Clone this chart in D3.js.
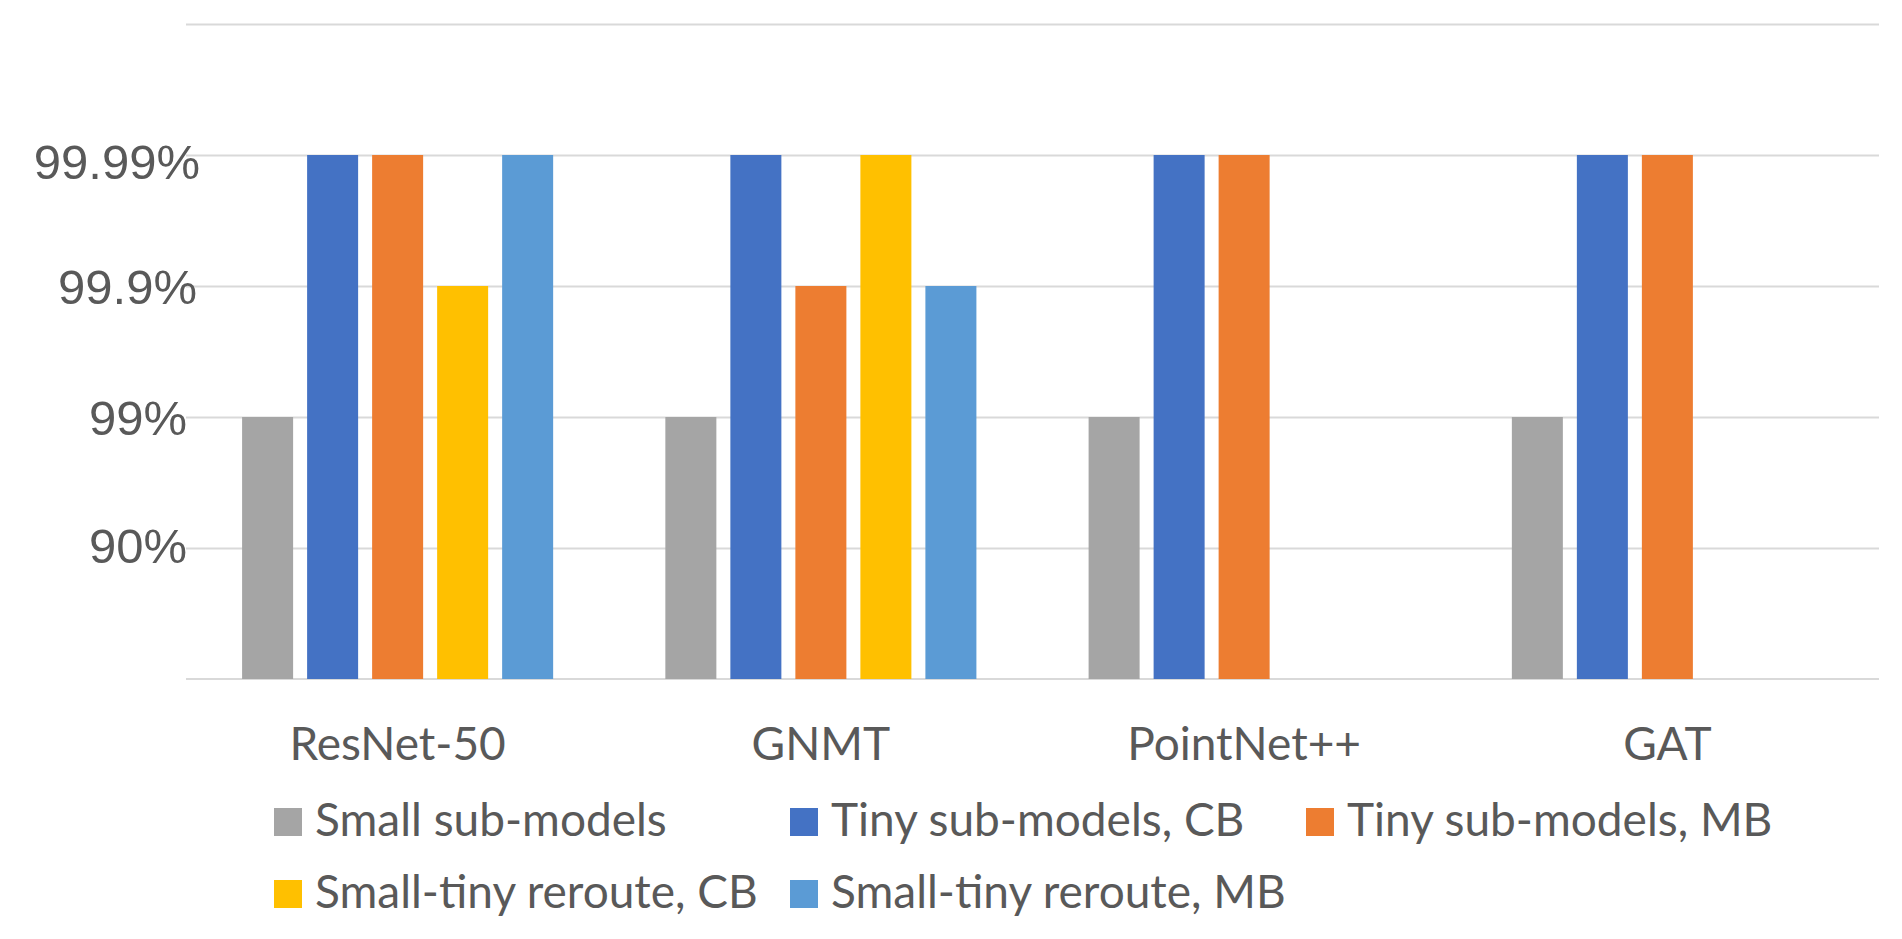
<!DOCTYPE html>
<html>
<head>
<meta charset="utf-8">
<script src="https://cdn.jsdelivr.net/npm/d3@7"></script>
<style>
  body { margin: 0; background: #fff; }
  svg { display: block; }
</style>
</head>
<body>
<div id="chart"></div>
<script>
const categories = ["ResNet-50", "GNMT", "PointNet++", "GAT"];
const seriesNames = [
  "Small sub-models",
  "Tiny sub-models, CB",
  "Tiny sub-models, MB",
  "Small-tiny reroute, CB",
  "Small-tiny reroute, MB"
];
const seriesColors = ["#A5A5A5", "#4472C4", "#ED7D31", "#FFC000", "#5B9BD5"];

// availability in percent, null = no bar
const smallSub = [99, 99, 99, 99];
const tinyCB = [99.99, 99.99, 99.99, 99.99];
const tinyMB = [99.99, 99.9, 99.99, 99.99];
const rerouteCB = [99.9, 99.99, null, null];
const rerouteMB = [99.99, 99.9, null, null];
const seriesValues = [smallSub, tinyCB, tinyMB, rerouteCB, rerouteMB];

const tickValues = [90, 99, 99.9, 99.99, 99.999];
const tickLabels = ["90%", "99%", "99.9%", "99.99%", ""];

const width = 1902, height = 939;
const plotLeft = 186, plotRight = 1879, plotTop = 24, plotBottom = 679;
// the original's tick labels sit a little unevenly
const labelDx = [0, 0, 10, 13, 0];
const labelDy = [-3, 0, 0, 6, 0];

// number of nines
const nines = v => -Math.log10(1 - v / 100);

const svg = d3.select("#chart").append("svg")
  .attr("width", width)
  .attr("height", height);

const x0 = d3.scaleBand().domain(categories).range([plotLeft, plotRight]).padding(0);
const x1 = d3.scaleBand().domain(seriesNames)
  .range([0, x0.bandwidth()])
  .paddingInner(14 / 65)
  .paddingOuter(0.863);
const y = d3.scaleLinear().domain([0, 5]).range([plotBottom, plotTop]);

// y axis + gridlines
const yAxis = svg.append("g")
  .attr("transform", `translate(${plotLeft},0)`)
  .call(d3.axisLeft(y)
    .tickValues(tickValues.map(nines))
    .tickSize(-(plotRight - plotLeft))
    .tickPadding(-1)
    .tickFormat((d, i) => tickLabels[i]));
yAxis.select(".domain").remove();
yAxis.selectAll(".tick line").attr("stroke", "#D9D9D9").attr("stroke-width", 2);
yAxis.selectAll(".tick text")
  .attr("fill", "#595959")
  .attr("dy", "0.36em")
  .attr("transform", (d, i) => `translate(${labelDx[i]},${labelDy[i]})`)
  .style("font-family", "'Liberation Sans', Arial, sans-serif")
  .style("font-size", "49px");

// baseline
svg.append("line")
  .attr("x1", plotLeft).attr("x2", plotRight)
  .attr("y1", y(0)).attr("y2", y(0))
  .attr("stroke", "#D9D9D9").attr("stroke-width", 2);

// bars
seriesNames.forEach((name, i) => {
  const rows = categories.map((c, j) => ({ cat: c, v: seriesValues[i][j] })).filter(d => d.v != null);
  svg.append("g").selectAll("rect")
    .data(rows)
    .join("rect")
    .attr("x", d => x0(d.cat) + x1(name))
    .attr("y", d => y(nines(d.v)))
    .attr("width", x1.bandwidth())
    .attr("height", d => y(0) - y(nines(d.v)))
    .attr("fill", seriesColors[i]);
});

// x axis labels
const xAxis = svg.append("g")
  .attr("transform", `translate(0,${plotBottom})`)
  .call(d3.axisBottom(x0).tickSize(0));
xAxis.select(".domain").remove();
xAxis.selectAll(".tick text")
  .attr("y", 81)
  .attr("dy", 0)
  .attr("fill", "#595959")
  .style("font-family", "Lato, sans-serif")
  .style("font-size", "46px");

// legend
const legend = svg.append("g");
seriesNames.forEach((name, i) => {
  const lx = 274 + (i % 3) * 516;
  const ly = 836 + Math.floor(i / 3) * 72;
  legend.append("rect")
    .attr("x", lx).attr("y", ly - 28)
    .attr("width", 28).attr("height", 28)
    .attr("fill", seriesColors[i]);
  legend.append("text")
    .attr("x", lx + 41).attr("y", ly)
    .attr("fill", "#595959")
    .style("font-family", "Lato, sans-serif")
    .style("font-size", "46px")
    .text(name);
});
</script>
</body>
</html>
